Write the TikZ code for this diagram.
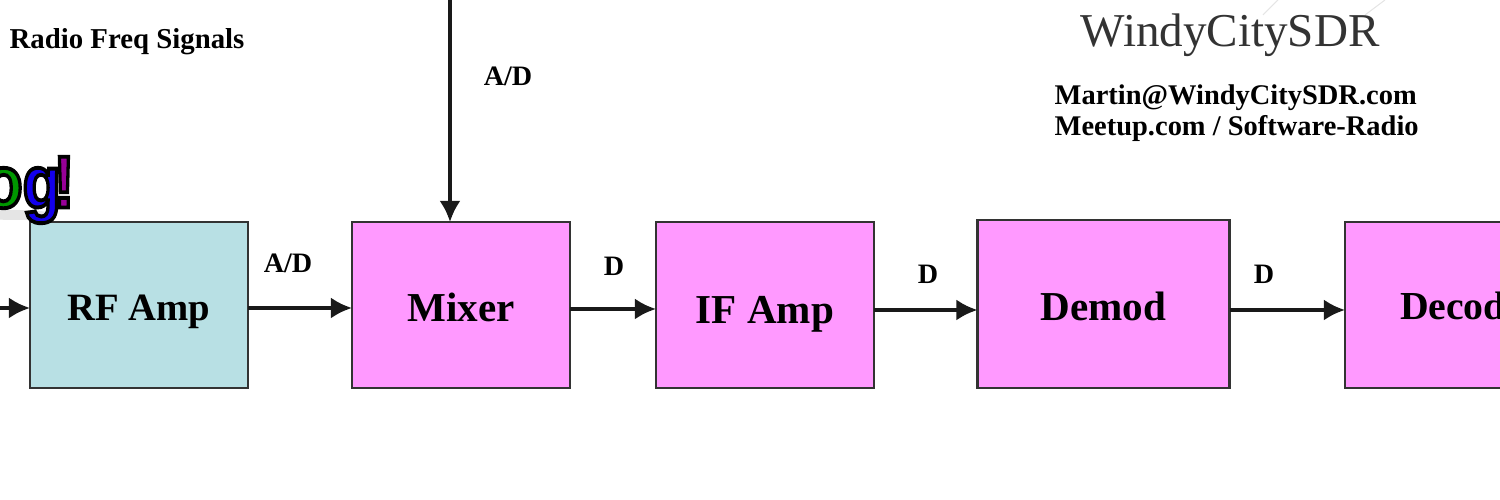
\documentclass[tikz,border=0pt]{standalone}
\usepackage{fontspec}
\setmainfont{Liberation Serif}
\newfontfamily\wordartfont{Liberation Sans}
\usetikzlibrary{arrows.meta}
\definecolor{rfcolor}{RGB}{184,224,228}
\definecolor{digcolor}{RGB}{255,153,255}
\newcommand{\outlined}[2]{\textcolor{#1}{\special{pdf:code 2 Tr 0 0 0 RG 1.1 w}#2\special{pdf:code 0 Tr}}}
\begin{document}
\begin{tikzpicture}[block/.style = {draw=black!80, line width=0.8pt, minimum height=1.66cm, inner sep=0pt, outer sep=0pt, text height=9.5pt, text depth=0pt},
    blocklabel/.style = {font=\fontsize{11.7}{14}\selectfont\bfseries},
    sig/.style = {font=\fontsize{8}{9}\selectfont\bfseries, inner sep=0pt},
    link/.style = {draw=black!90, line width=1pt, -{Latex[length=6pt,width=6pt]}}]
    \useasboundingbox (0, 0) rectangle (15, 5);
    \clip (0, 0) rectangle (15, 5);
    \fill[black!10] (0.15, 2.85) ellipse (0.4 and 0.05);
    \draw[black!10, line width=0.3pt] (12.63, 4.85) -- (12.78, 5);
    \draw[black!10, line width=0.3pt] (13.65, 4.85) -- (13.85, 5);

    \node[block, font=\fontsize{11}{14}\selectfont\bfseries, fill=rfcolor, minimum width=2.18cm, text height=9pt] at (1.39, 1.95) (rfamp) {RF Amp};
    \node[block, blocklabel, fill=digcolor, minimum width=2.18cm] at (4.61, 1.95) (mixer) {Mixer};
    \node[block, blocklabel, fill=digcolor, minimum width=2.18cm, text height=10.5pt] at (7.65, 1.95) (ifamp) {IF Amp};
    \node[block, blocklabel, fill=digcolor, minimum width=2.52cm, minimum height=1.68cm, text height=9.6pt] at (11.035, 1.96) (demod) {Demod};
    \node[block, font=\fontsize{11.3}{14}\selectfont\bfseries, fill=digcolor, minimum width=2.2cm, text width=1.1cm, align=left, inner xsep=0.55cm, text height=8.5pt] at (14.55, 1.95) (decod) {Decod};

    \coordinate (rfin) at (0, 1.92);
    \coordinate (loin) at (4.5, 5);
    \draw [link] (rfin) -- (rfin -| rfamp.west);
    \draw [link] (rfamp.east |- 0, 1.92) -- (mixer.west |- 0, 1.92);
    \draw [link] (loin) -- (loin |- mixer.north);
    \draw [link] (mixer.east |- 0, 1.91) -- (ifamp.west |- 0, 1.91);
    \draw [link] (ifamp.east |- 0, 1.9) -- (demod.west |- 0, 1.9);
    \draw [link] (demod.east |- 0, 1.9) -- (decod.west |- 0, 1.9);

    \node[sig] at (2.88, 2.37) (ad1) {A/D};
    \node[sig] at (5.08, 4.24) (ad2) {A/D};
    \node[sig] at (6.14, 2.34) (d1) {D};
    \node[sig] at (9.28, 2.26) (d2) {D};
    \node[sig] at (12.64, 2.26) (d3) {D};
    \node[sig, font=\fontsize{8.2}{9}\selectfont\bfseries] at (1.27, 4.58) (title) {Radio Freq Signals};
    \node[font=\fontsize{13.4}{16}\selectfont, text=black!80, inner sep=0pt] at (12.3, 4.65) (name) {WindyCitySDR};
    \node[sig, anchor=west, align=left, font=\fontsize{8.1}{9}\selectfont\bfseries] at (10.54, 3.87) (contact) {Martin@WindyCitySDR.com\\Meetup.com / Software-Radio};
    \node[inner sep=0pt, anchor=east, xscale=0.85, font=\fontsize{21}{24}\selectfont\bfseries\wordartfont] at (0.75, 3.1) (wordart) {\outlined{green!60!black}{o}\outlined{blue!85!violet}{g}\kern-2.5pt\outlined{violet!80!magenta}{!}};
\end{tikzpicture}
\end{document}
